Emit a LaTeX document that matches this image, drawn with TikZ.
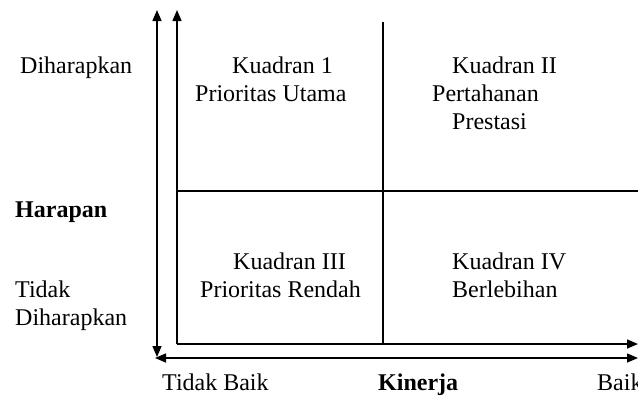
\documentclass[tikz,border=0pt]{standalone}
\usepackage{fontspec}
\setmainfont{Liberation Serif}
\usetikzlibrary{arrows.meta}
\begin{document}
\begin{tikzpicture}[x=1pt,y=-1pt,
  ax/.style={line width=1.5pt,-{Triangle[length=11pt,width=9pt]}},
  axx/.style={line width=1.5pt,{Triangle[length=11pt,width=9pt]}-{Triangle[length=11pt,width=9pt]}},
  grid/.style={line width=1.3pt},
  lbl/.style={anchor=base west,inner sep=0pt,font=\fontsize{24}{28}\selectfont},
  blbl/.style={lbl,font=\fontsize{24}{28}\selectfont\bfseries}]
\useasboundingbox (0,0) rectangle (638,413);
% coordinates
\coordinate (ytop) at (157,10);
\coordinate (ybot) at (157,357);
\coordinate (btop) at (177,10);
\coordinate (bll) at (177,344);
\coordinate (blr) at (638,344);
\coordinate (xl) at (155,358);
\coordinate (xr) at (638,358);
\coordinate (mvt) at (383,22);
\coordinate (mvb) at (383,344);
\coordinate (mhl) at (177,191);
\coordinate (mhr) at (638,191);
% axes
\draw[axx] (ybot) -- (ytop);
\draw[ax] (bll) -- (btop);
\draw[ax] (bll) -- (blr);
\draw[axx] (xl) -- (xr);
\draw[grid] (mvt) -- (mvb);
\draw[grid] (mhl) -- (mhr);
% left labels
\node[lbl] (dh) at (20,73) {Diharapkan};
\node[blbl] (hr) at (15,217) {Harapan};
\node[lbl] (td) at (15,297) {Tidak};
\node[lbl] (tdh) at (15,325) {Diharapkan};
% quadrants
\node[lbl] (k1) at (232,73) {Kuadran 1};
\node[lbl] (k1b) at (195,101) {Prioritas Utama};
\node[lbl] (k2) at (452,73) {Kuadran II};
\node[lbl] (k2b) at (432,101) {Pertahanan};
\node[lbl] (k2c) at (452,129) {Prestasi};
\node[lbl] (k3) at (233,269) {Kuadran III};
\node[lbl] (k3b) at (200,297) {Prioritas Rendah};
\node[lbl] (k4) at (452,269) {Kuadran IV};
\node[lbl] (k4b) at (452,297) {Berlebihan};
% bottom labels
\node[lbl] (tb) at (162,390) {Tidak Baik};
\node[blbl] (kn) at (378,390) {Kinerja};
\node[lbl] (bk) at (597,390) {Baik};
\end{tikzpicture}
\end{document}
